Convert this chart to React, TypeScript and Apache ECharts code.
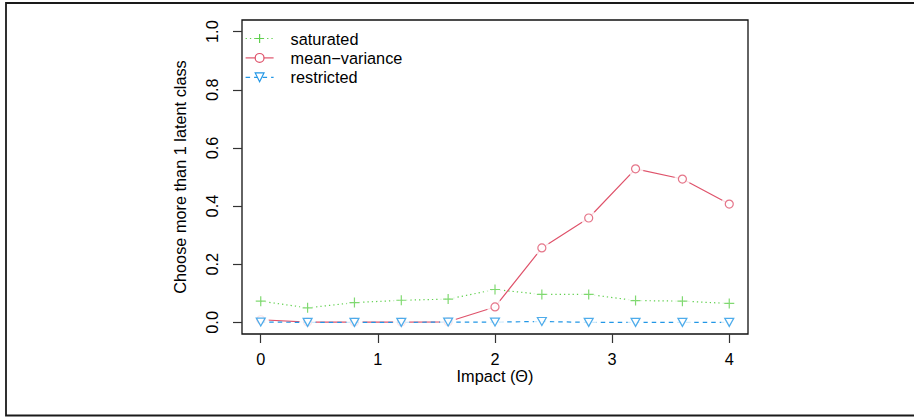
import React, { useEffect, useRef } from "react";
import * as echarts from "echarts";

// Impact values on the x axis and the share of replications choosing more than one class
const impact = [0, 0.4, 0.8, 1.2, 1.6, 2.0, 2.4, 2.8, 3.2, 3.6, 4.0];
const saturated = [0.073, 0.05, 0.068, 0.076, 0.08, 0.113, 0.096, 0.096, 0.075, 0.073, 0.065];
const meanVariance = [0.009, 0.001, 0.001, 0.001, 0.002, 0.053, 0.256, 0.359, 0.528, 0.493, 0.407];
const restricted = [0.001, 0, 0, 0, 0.001, 0.001, 0.003, 0, 0, 0, 0];

const xTicks = [0, 1, 2, 3, 4];
const yTicks = [0, 0.2, 0.4, 0.6, 0.8, 1.0];
const seriesNames = ["saturated", "mean\u2212variance", "restricted"];

const FONT = "'Liberation Sans', Arial, Helvetica, sans-serif";
const FS = 16.3;

const GREEN = "#61D04F";
const PINK = "#DF536B";
const BLUE = "#2297E6";

const PLUS = "path://M5 0V10M0 5H10";
const RING = "path://M0 5A5 5 0 1 0 10 5A5 5 0 1 0 0 5Z";
const TRI_DOWN = "path://M0 0H10L5 8.66Z";

function points(ys: number[]) {
  return impact.map((x, i) => [x, ys[i]]);
}

type Spec = {
  name: string;
  values: number[];
  color: string;
  dash: number[] | "solid";
  symbol: string;
  size: number | number[];
  fill: string;
};

const specs: Spec[] = [
  { name: seriesNames[0], values: saturated, color: GREEN, dash: [1.3, 3], symbol: PLUS, size: 10, fill: "none" },
  { name: seriesNames[1], values: meanVariance, color: PINK, dash: "solid", symbol: RING, size: 8, fill: "#fff" },
  { name: seriesNames[2], values: restricted, color: BLUE, dash: [4.5, 4], symbol: TRI_DOWN, size: [9, 8], fill: "#fff" },
];

function buildSeries() {
  const out: any[] = [];
  specs.forEach((s, k) => {
    const base = 2 + k * 3;
    const itemStyle = { color: s.fill, borderColor: s.color, borderWidth: 1.2 };
    // connecting line (legend icon comes from this one)
    out.push({
      type: "line",
      name: s.name,
      data: points(s.values),
      showSymbol: false,
      symbol: s.symbol,
      symbolSize: s.size,
      itemStyle,
      lineStyle: { color: s.color, width: 1.2, type: s.dash },
      z: base,
      silent: true,
    });
    // white halo that opens a small gap in the line around each point
    out.push({
      type: "scatter",
      data: points(s.values),
      symbol: "circle",
      symbolSize: 16,
      itemStyle: { color: "#fff" },
      z: base + 1,
      silent: true,
    });
    // point markers
    out.push({
      type: "scatter",
      name: s.name,
      data: points(s.values),
      symbol: s.symbol,
      symbolSize: s.size,
      itemStyle,
      z: base + 2,
      silent: true,
    });
  });
  return out;
}

export default function App() {
  const ref = useRef<HTMLDivElement>(null);

  useEffect(() => {
    if (!ref.current) return;
    const chart = echarts.init(ref.current, undefined, { renderer: "svg" });
    chart.setOption({
      animation: false,
      backgroundColor: "#fff",
      textStyle: { fontFamily: FONT, fontSize: FS, color: "#000" },
      graphic: [
        {
          type: "rect",
          shape: { x: 6, y: 3, width: 920, height: 412.5 },
          style: { fill: "none", stroke: "#1a1a1a", lineWidth: 1.8 },
          silent: true,
          z: 0,
        },
      ],
      grid: {
        left: 242,
        top: 20,
        width: 506,
        height: 314,
        show: true,
        borderColor: "#111",
        borderWidth: 1.3,
        backgroundColor: "transparent",
      },
      legend: {
        orient: "vertical",
        left: 245,
        top: 30.5,
        padding: 0,
        itemWidth: 28,
        itemHeight: 11,
        itemGap: 3.4,
        data: seriesNames.map((n) => ({ name: n })),
        textStyle: { fontFamily: FONT, fontSize: FS, color: "#000", padding: [0, 0, 0, 12] },
        itemStyle: { borderWidth: 1.2 },
        lineStyle: { width: 1.2 },
        selectedMode: false,
      },
      xAxis: {
        type: "value",
        min: -0.16,
        max: 4.16,
        name: "Impact (\u0398)",
        nameLocation: "middle",
        nameGap: 35,
        nameMoveOverlap: false,
        nameTextStyle: { fontFamily: FONT, fontSize: FS, lineHeight: 13, color: "#000" },
        axisLine: { show: false, onZero: false },
        axisTick: { show: true, length: 9, customValues: xTicks, lineStyle: { color: "#333", width: 1.2 } },
        axisLabel: {
          customValues: xTicks,
          margin: 18,
          lineHeight: 13,
          fontFamily: FONT,
          fontSize: FS,
          color: "#000",
          formatter: (v: number) => String(v),
        },
        splitLine: { show: false },
      },
      yAxis: {
        type: "value",
        min: -0.04,
        max: 1.04,
        name: "Choose more than 1 latent class",
        nameLocation: "middle",
        nameGap: 54,
        nameTextStyle: { fontFamily: FONT, fontSize: FS, color: "#000" },
        axisLine: { show: false, onZero: false },
        axisTick: { show: true, length: 9, customValues: yTicks, lineStyle: { color: "#333", width: 1.2 } },
        axisLabel: {
          customValues: yTicks,
          rotate: 90,
          margin: 22,
          fontFamily: FONT,
          fontSize: FS,
          color: "#000",
          formatter: (v: number) => v.toFixed(1),
        },
        splitLine: { show: false },
      },
      series: buildSeries(),
    });
    return () => chart.dispose();
  }, []);

  return (
    <div
      ref={ref}
      style={{ position: "fixed", left: 0, top: 0, width: 914, height: 417 }}
    />
  );
}
